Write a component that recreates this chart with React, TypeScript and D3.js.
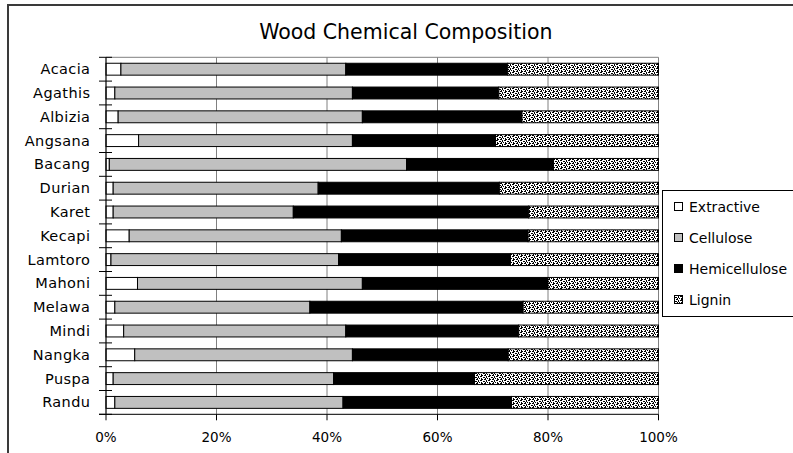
import React from "react";
import * as d3 from "d3";

const categories = ["Acacia","Agathis","Albizia","Angsana","Bacang","Durian","Karet","Kecapi","Lamtoro","Mahoni","Melawa","Mindi","Nangka","Puspa","Randu"];
const extractive = [2.7, 1.6, 2.2, 5.9, 0.6, 1.3, 1.3, 4.2, 0.9, 5.7, 1.6, 3.2, 5.2, 1.3, 1.6];
const cellulose = [40.7, 43.0, 44.2, 38.7, 53.8, 37.1, 32.6, 38.4, 41.2, 40.7, 35.3, 40.2, 39.4, 39.9, 41.3];
const hemicellulose = [29.3, 26.5, 28.9, 25.9, 26.6, 32.8, 42.6, 33.8, 31.1, 33.6, 38.6, 31.3, 28.2, 25.5, 30.5];
const lignin = [27.3, 28.9, 24.7, 29.5, 19.0, 28.8, 23.5, 23.6, 26.8, 20.0, 24.5, 25.3, 27.2, 33.3, 26.6];
const seriesNames = ["Extractive", "Cellulose", "Hemicellulose", "Lignin"];
const xTicks = [0, 0.2, 0.4, 0.6, 0.8, 1.0];

const FONT = "'DejaVu Sans', Verdana, sans-serif";

export default function App() {
  const rows = categories.map((c, i) => ({
    name: c,
    Extractive: extractive[i],
    Cellulose: cellulose[i],
    Hemicellulose: hemicellulose[i],
    Lignin: lignin[i],
  }));
  const stack = d3.stack<any>().keys(seriesNames).offset(d3.stackOffsetExpand);
  const series = stack(rows);

  const x = d3.scaleLinear().domain([0, 1]).range([106, 658.5]);
  const y = d3.scaleBand().domain(categories).range([57.3, 414.3]).paddingInner(0.5).paddingOuter(0.25);
  const top = 57.3, bottom = 414.3;
  const step = y.step();

  const fills: Record<string, string> = {
    Extractive: "#ffffff",
    Cellulose: "#c0c0c0",
    Hemicellulose: "#000000",
    Lignin: "url(#confetti)",
  };

  const boundaries = d3.range(categories.length + 1).map((i) => top + i * step);

  return (
    <svg width={793} height={453} style={{ position: "absolute", left: 0, top: 0 }}>
      <defs>
        <pattern id="confetti" width={8} height={4} patternUnits="userSpaceOnUse">
          <rect width={8} height={4} fill="#ffffff" />
          <rect x={0} y={0} width={2} height={1} fill="#000" />
          <rect x={3} y={1} width={2} height={1} fill="#000" />
          <rect x={6} y={0} width={1} height={2} fill="#000" />
          <rect x={1} y={2} width={1} height={2} fill="#000" />
          <rect x={4} y={3} width={2} height={1} fill="#000" />
          <rect x={7} y={2} width={1} height={1} fill="#000" />
          <rect x={2} y={3} width={1} height={1} fill="#000" />
          <rect x={5} y={2} width={1} height={1} fill="#000" />
        </pattern>
      </defs>
      <rect x={0} y={0} width={793} height={453} fill="#ffffff" />
      {/* outer frame */}
      <rect x={8} y={5} width={800} height={460} fill="none" stroke="#3a3a3a" strokeWidth={2} />

      {/* title */}
      <text x={405.8} y={39.3} textAnchor="middle" fontFamily={FONT} fontSize={20.5} fill="#000">
        Wood Chemical Composition
      </text>

      {/* gridlines */}
      <line x1={x(0)} x2={x(1)} y1={top} y2={top} stroke="#808080" strokeWidth={1} />
      {xTicks.slice(1).map((t) => (
        <line key={t} x1={x(t)} x2={x(t)} y1={top} y2={bottom} stroke="#808080" strokeWidth={1} />
      ))}

      {/* bars */}
      {series.map((s) => (
        <g key={s.key}>
          {s.map((d, i) => (
            <rect
              key={i}
              x={x(d[0])}
              y={y(categories[i])}
              width={x(d[1]) - x(d[0])}
              height={y.bandwidth()}
              fill={fills[s.key]}
              stroke="#000"
              strokeWidth={1}
            />
          ))}
        </g>
      ))}

      {/* axes */}
      <line x1={x(0)} x2={x(0)} y1={top} y2={bottom} stroke="#000" strokeWidth={1.2} />
      <line x1={x(0) - 7} x2={x(1)} y1={bottom} y2={bottom} stroke="#303030" strokeWidth={1.2} />
      {boundaries.map((b, i) => (
        <line key={i} x1={x(0) - 7} x2={x(0) + 6} y1={b} y2={b} stroke="#000" strokeWidth={1} />
      ))}
      {xTicks.map((t) => (
        <line key={t} x1={x(t)} x2={x(t)} y1={bottom} y2={bottom + 6} stroke="#000" strokeWidth={1} />
      ))}

      {/* y labels */}
      {categories.map((c) => (
        <text
          key={c}
          x={90.4}
          y={(y(c) as number) + y.bandwidth() / 2 + 5}
          textAnchor="end"
          fontFamily={FONT}
          fontSize={14.5}
          letterSpacing={0.4}
          fill="#000"
        >
          {c}
        </text>
      ))}

      {/* x labels */}
      {xTicks.map((t) => (
        <text key={t} x={x(t)} y={441.7} textAnchor="middle" fontFamily={FONT} fontSize={13.5} fill="#000">
          {d3.format(".0%")(t)}
        </text>
      ))}

      {/* legend */}
      <rect x={662.5} y={190.5} width={140} height={126} fill="#fff" stroke="#000" strokeWidth={1} />
      {seriesNames.map((n, i) => {
        const cy = 207 + i * 31;
        return (
          <g key={n}>
            <rect x={674.5} y={cy - 4.5} width={8} height={8} fill={fills[n]} stroke="#000" strokeWidth={1} />
            <text x={689} y={cy + 5} fontFamily={FONT} fontSize={14} fill="#000">
              {n}
            </text>
          </g>
        );
      })}
    </svg>
  );
}
